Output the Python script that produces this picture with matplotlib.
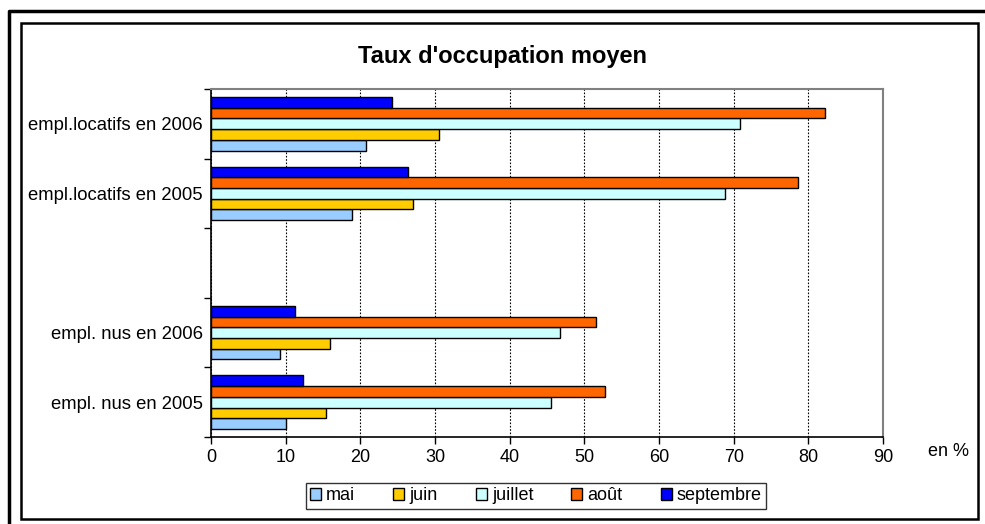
import matplotlib.pyplot as plt
import numpy as np
from matplotlib.patches import Rectangle
from matplotlib.lines import Line2D

plt.rcParams['font.family'] = ['Liberation Sans', 'DejaVu Sans']

# categories, bottom to top (one empty slot between the two groups)
categories = ["empl. nus en 2005", "empl. nus en 2006", "",
              "empl.locatifs en 2005", "empl.locatifs en 2006"]
months = ["mai", "juin", "juillet", "août", "septembre"]
colors = ["#99CCFF", "#FFCC00", "#CCFFFF", "#FF6600", "#0000FF"]

mai = [10.1, 9.3, np.nan, 18.9, 20.7]
juin = [15.4, 16.0, np.nan, 27.0, 30.6]
juillet = [45.5, 46.8, np.nan, 68.9, 70.8]
aout = [52.8, 51.5, np.nan, 78.6, 82.2]
septembre = [12.3, 11.3, np.nan, 26.4, 24.3]
series = [mai, juin, juillet, aout, septembre]

fig = plt.figure(figsize=(9.85, 5.24), dpi=100)
ax = fig.add_axes([211 / 985, 1 - 437 / 524, 672 / 985, 348 / 524])

y = np.arange(len(categories))
h = 1 / 6.5
for i, (vals, name, c) in enumerate(zip(series, months, colors)):
    ax.barh(y + (i - 2) * h, vals, height=h, color=c, edgecolor='black',
            linewidth=1.0, label=name, zorder=3)

ax.set_xlim(0, 90)
ax.set_ylim(-0.5, len(categories) - 0.5)
ax.set_xticks(np.arange(0, 91, 10))
ax.tick_params(axis='x', labelsize=13, length=5, width=1, pad=4, colors='black')
ax.set_yticks(np.arange(-0.5, len(categories), 1))
ax.set_yticklabels([])
ax.set_yticks(y, minor=True)
ax.set_yticklabels(categories, minor=True, fontsize=13.3)
ax.tick_params(axis='y', which='major', length=5, width=1)
ax.tick_params(axis='y', which='minor', length=0, pad=6)

ax.xaxis.grid(True, linestyle=(0, (1.5, 1.5)), color='black', linewidth=0.8)
ax.set_axisbelow(True)
for s in ['top', 'right']:
    ax.spines[s].set_color('#808080')
    ax.spines[s].set_linewidth(1.5)
for s in ['left', 'bottom']:
    ax.spines[s].set_color('black')
    ax.spines[s].set_linewidth(1.2)

fig.text(502 / 985, 1 - 57 / 524, "Taux d'occupation moyen", ha='center', va='center',
         fontsize=17, fontweight='bold')
fig.text(948 / 985, 1 - 452 / 524, "en %", ha='center', va='center', fontsize=13)

handles = [Rectangle((0, 0), 1, 1, facecolor=c, edgecolor='black', linewidth=1)
           for c in colors]
leg = fig.legend(handles, months, loc='center', ncol=5,
                 bbox_to_anchor=(536 / 985, 1 - 496 / 524), fontsize=13,
                 frameon=True, fancybox=False, edgecolor='black',
                 handlelength=0.6, handleheight=0.6, handletextpad=0.3,
                 columnspacing=2.1, borderpad=0.25, borderaxespad=0)
leg.get_frame().set_linewidth(1.0)

# outer frames
fig.add_artist(Line2D([9 / 985, 9 / 985, 1], [0, 1 - 11 / 524, 1 - 11 / 524],
                      color='black', linewidth=2.5, transform=fig.transFigure))
fig.add_artist(Rectangle((21 / 985, 1 - 519 / 524), 957 / 985, 496 / 524,
                         fill=False, edgecolor='black', linewidth=1.8,
                         transform=fig.transFigure))

fig.savefig("out.png", dpi=100, facecolor='white')
